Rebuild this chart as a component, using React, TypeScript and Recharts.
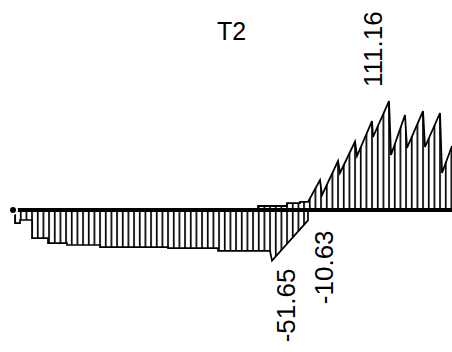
import { Area, ComposedChart, Line, XAxis, YAxis } from "recharts";

// stations along the member (m) and force values
const negStation = [1.5, 1.5, 2.0, 2.0, 3.2, 3.2, 4.8, 4.8, 6.7, 6.7, 10.0, 10.0, 16.8, 16.8, 21.8, 21.8, 27.0, 27.2, 30.8, 30.8];
const negForce = [0, -13.3, -13.3, -10.2, -10.2, -28.6, -28.6, -33.7, -33.7, -35.7, -35.7, -37.8, -37.8, -38.8, -38.8, -41.8, -41.8, -51.65, -10.63, 0];

const posStation = [25.8, 25.8, 28.7, 28.7, 30.0, 30.0, 30.8, 32.0, 32.2, 33.8, 34.0, 35.5, 35.7, 37.2, 37.3, 38.9, 39.1, 40.5, 40.7, 42.3, 42.5, 44.0, 44.2, 45.2];
const posForce = [0, 4.1, 4.1, 7.1, 7.1, 8.2, 8.2, 30.6, 15.3, 50.0, 37.8, 69.9, 55.1, 90.8, 74.5, 111.16, 56.1, 96.9, 63.3, 101.0, 64.3, 99.0, 37.8, 65.3];

// the member itself
const beamStation = [1.3, 45.2];
const beamForce = [0, 0];

// labelled extremes
const peakStation = [27.2, 30.8, 38.9];
const peakForce = [-51.65, -10.63, 111.16];

const title = "T2";

const negData = negStation.map((s, i) => ({ s, v: negForce[i] }));
const posData = posStation.map((s, i) => ({ s, v: posForce[i] }));
const beamData = beamStation.map((s, i) => ({ s, v: beamForce[i] }));
const peakData = peakStation.map((s, i) => ({ s, v: peakForce[i] }));

const labelNudge = [
  { dx: 23, dy: 8, anchor: "end" },
  { dx: 25, dy: 10, anchor: "end" },
  { dx: -7, dy: -14, anchor: "start" },
];

const FONT = "'Liberation Sans', Arial, sans-serif";

function PeakLabel(props: any) {
  const x = props.x ?? props.viewBox?.x;
  const y = props.y ?? props.viewBox?.y;
  const n = labelNudge[props.index] ?? { dx: 0, dy: 0, anchor: "start" };
  if (x == null || y == null) return null;
  return (
    <text
      transform={`translate(${x + n.dx},${y + n.dy}) rotate(-90)`}
      textAnchor={n.anchor}
      fontSize={26}
      fontFamily={FONT}
      fill="#000"
    >
      {Number(props.value).toFixed(2)}
    </text>
  );
}

export default function App() {
  return (
    <div
      style={{
        position: "fixed",
        left: 0,
        top: 0,
        width: 452,
        height: 352,
        background: "#fff",
        overflow: "hidden",
      }}
    >
      <ComposedChart width={452} height={352} margin={{ top: 0, right: 0, bottom: 0, left: 0 }}>
        <defs>
          <pattern id="hatch" patternUnits="userSpaceOnUse" x={14.2} y={0} width={17 / 3} height={10}>
            <rect x={0} y={0} width={1.7} height={10} fill="#000" />
          </pattern>
        </defs>
        <XAxis dataKey="s" type="number" domain={[0, 45.2]} allowDataOverflow hide />
        <YAxis type="number" domain={[-144.9, 214.3]} allowDataOverflow hide />
        <Area
          data={negData}
          dataKey="v"
          type="linear"
          baseValue={0}
          stroke="#000"
          strokeWidth={1.7}
          fill="url(#hatch)"
          fillOpacity={1}
          isAnimationActive={false}
        />
        <Area
          data={posData}
          dataKey="v"
          type="linear"
          baseValue={0}
          stroke="#000"
          strokeWidth={1.8}
          fill="url(#hatch)"
          fillOpacity={1}
          isAnimationActive={false}
        />
        <Line
          data={beamData}
          dataKey="v"
          type="linear"
          stroke="#000"
          strokeWidth={4}
          dot={false}
          isAnimationActive={false}
        />
        <Line
          data={peakData}
          dataKey="v"
          stroke="none"
          dot={false}
          activeDot={false}
          label={PeakLabel}
          isAnimationActive={false}
        />
        <text x={217} y={40} fontSize={25} fontFamily={FONT} fill="#000">
          {title}
        </text>
      </ComposedChart>
    </div>
  );
}
